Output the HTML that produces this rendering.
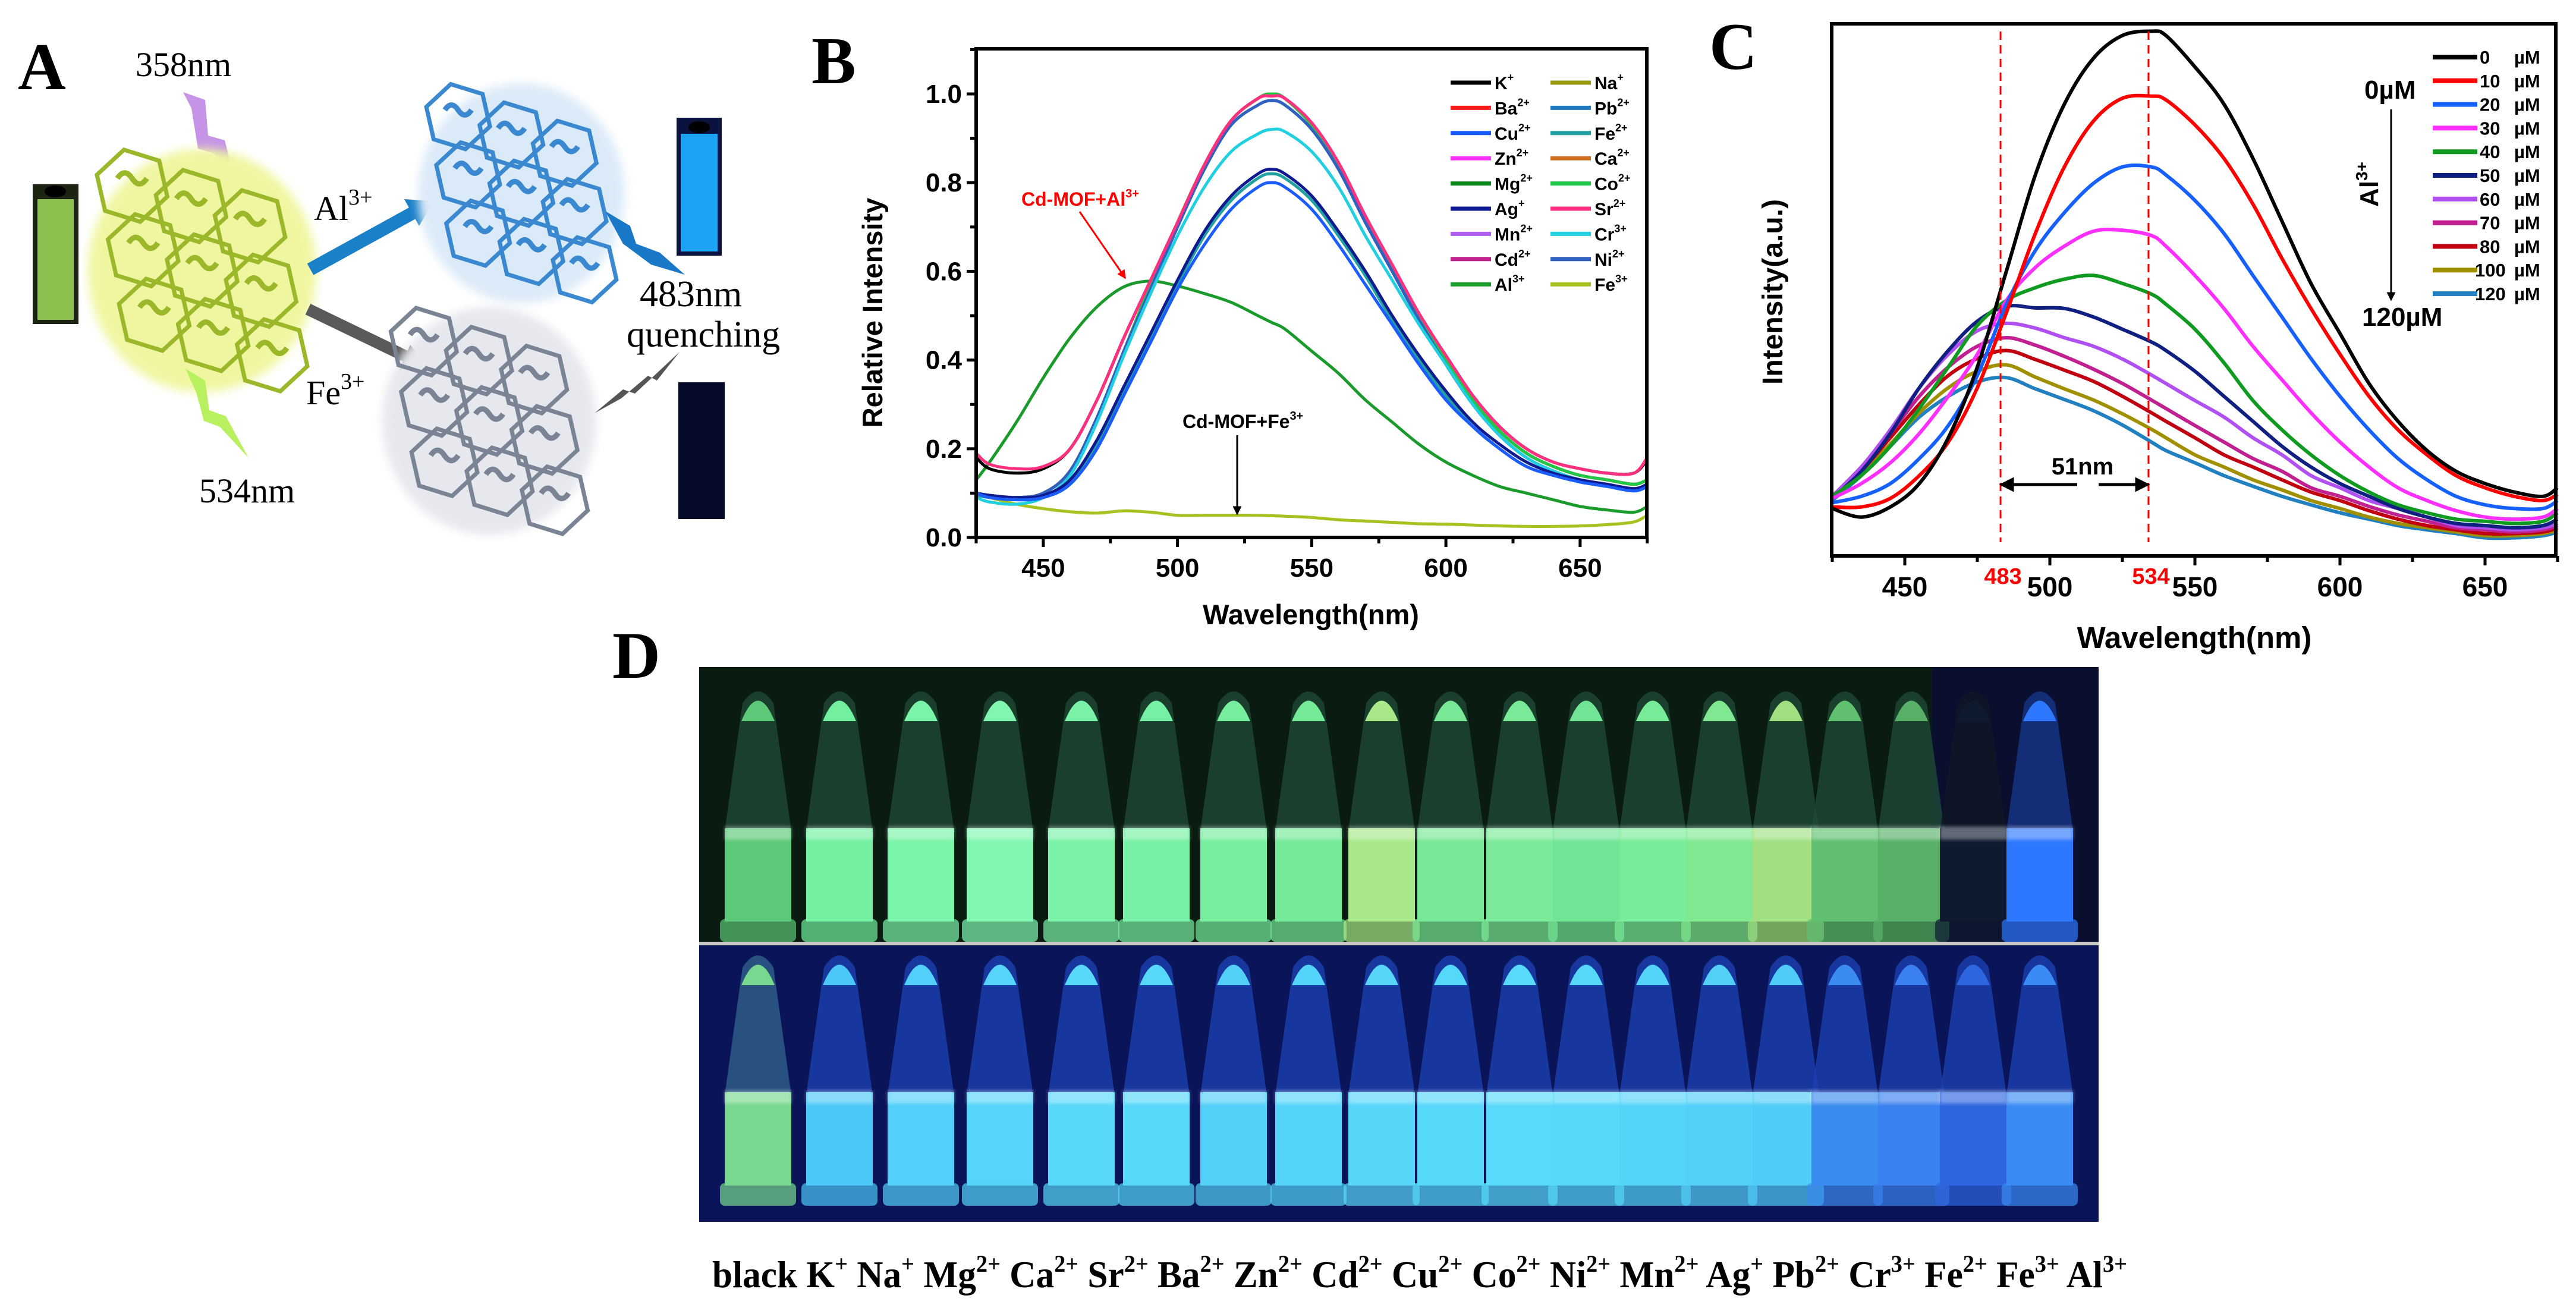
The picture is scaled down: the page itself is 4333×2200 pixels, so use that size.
<!DOCTYPE html>
<html><head><meta charset="utf-8"><title>Cd-MOF sensing figure</title>
<style>
html,body{margin:0;padding:0;background:#fff;}
svg{display:block;}
.ax{font-family:"Liberation Sans",Arial,sans-serif;font-weight:bold;}
.sr{font-family:"Liberation Serif","Times New Roman",serif;}
</style></head>
<body>
<svg id="fig" xmlns="http://www.w3.org/2000/svg" width="4333" height="2200" viewBox="0 0 4333 2200">
<defs>
<filter id="blur8" x="-20%" y="-20%" width="140%" height="140%"><feGaussianBlur stdDeviation="8"/></filter>
<filter id="blur3" x="-20%" y="-20%" width="140%" height="140%"><feGaussianBlur stdDeviation="3"/></filter>
<marker id="arrK" viewBox="0 0 10 10" refX="9" refY="5" markerWidth="5" markerHeight="5" orient="auto"><path d="M0,0 L10,5 L0,10 z" fill="#000"/></marker>
<marker id="arrR" viewBox="0 0 10 10" refX="9" refY="5" markerWidth="5" markerHeight="5" orient="auto"><path d="M0,0 L10,5 L0,10 z" fill="#f00"/></marker>
</defs>

<text class="sr" x="30" y="150" font-size="112" font-weight="bold">A</text>
<text class="sr" x="1365" y="140" font-size="112" font-weight="bold">B</text>
<text class="sr" x="2875" y="116" font-size="112" font-weight="bold">C</text>
<text class="sr" x="1030" y="1140" font-size="112" font-weight="bold">D</text>

<g id="panelA">
  <text class="sr" x="228" y="128" font-size="58">358nm</text>
  <polygon points="308,155 345,168 350,228 378,236 400,322 360,258 333,250 322,182" fill="#c594e6"/>
  <rect x="55" y="310" width="77" height="235" fill="#1b2410"/>
  <rect x="63" y="335" width="61" height="203" fill="#8cc04e"/>
  <ellipse cx="93" cy="322" rx="18" ry="10" fill="#000"/>
  <g id="netY"></g>
  <polygon points="312,620 345,640 352,690 380,700 418,770 370,718 343,708 330,660" fill="#b8f060"/>
  <text class="sr" x="335" y="845" font-size="58">534nm</text>
  <line x1="522" y1="453" x2="700" y2="355" stroke="#1a80c8" stroke-width="22"/>
  <polygon points="730,338 680,335 705,380" fill="#1a80c8"/>
  <text class="sr" x="528" y="370" font-size="58">Al<tspan font-size="38" dy="-26">3+</tspan></text>
  <g id="netB"></g>
  <rect x="1138" y="198" width="76" height="232" fill="#0a1240"/>
  <rect x="1145" y="225" width="62" height="198" fill="#1ba4f4"/>
  <ellipse cx="1176" cy="214" rx="18" ry="10" fill="#000"/>
  <polygon points="1018,355 1060,380 1070,410 1110,425 1152,462 1095,445 1075,430 1048,410" fill="#1a78c8"/>
  <text class="sr" x="1076" y="515" font-size="62">483nm</text>
  <text class="sr" x="1054" y="583" font-size="62">quenching</text>
  <line x1="518" y1="520" x2="690" y2="603" stroke="#5a5a5a" stroke-width="20"/>
  <polygon points="722,618 672,622 690,580" fill="#5a5a5a"/>
  <text class="sr" x="515" y="680" font-size="58">Fe<tspan font-size="38" dy="-26">3+</tspan></text>
  <g id="netG"></g>
  <polygon points="1143,592 1105,640 1090,632 1045,670 1000,695 1048,655 1068,662" fill="#555"/>
  <rect x="1141" y="643" width="78" height="230" fill="#050a2a"/>
</g>

<g id="panelB"></g>
<g id="panelC"></g>
<g id="panelD"></g>

<text class="sr" x="1198" y="2165" font-size="64" font-weight="bold" textLength="2380" lengthAdjust="spacingAndGlyphs">black K<tspan font-size="40" dy="-26">+</tspan><tspan dy="26"> Na</tspan><tspan font-size="40" dy="-26">+</tspan><tspan dy="26"> Mg</tspan><tspan font-size="40" dy="-26">2+</tspan><tspan dy="26"> Ca</tspan><tspan font-size="40" dy="-26">2+</tspan><tspan dy="26"> Sr</tspan><tspan font-size="40" dy="-26">2+</tspan><tspan dy="26"> Ba</tspan><tspan font-size="40" dy="-26">2+</tspan><tspan dy="26"> Zn</tspan><tspan font-size="40" dy="-26">2+</tspan><tspan dy="26"> Cd</tspan><tspan font-size="40" dy="-26">2+</tspan><tspan dy="26"> Cu</tspan><tspan font-size="40" dy="-26">2+</tspan><tspan dy="26"> Co</tspan><tspan font-size="40" dy="-26">2+</tspan><tspan dy="26"> Ni</tspan><tspan font-size="40" dy="-26">2+</tspan><tspan dy="26"> Mn</tspan><tspan font-size="40" dy="-26">2+</tspan><tspan dy="26"> Ag</tspan><tspan font-size="40" dy="-26">+</tspan><tspan dy="26"> Pb</tspan><tspan font-size="40" dy="-26">2+</tspan><tspan dy="26"> Cr</tspan><tspan font-size="40" dy="-26">3+</tspan><tspan dy="26"> Fe</tspan><tspan font-size="40" dy="-26">2+</tspan><tspan dy="26"> Fe</tspan><tspan font-size="40" dy="-26">3+</tspan><tspan dy="26"> Al</tspan><tspan font-size="40" dy="-26">3+</tspan></text>
</svg>

<script>
// ---------- Panel B data ----------
const wlB = [425,430,440,450,460,470,480,490,500,510,520,530,535,540,550,560,570,580,590,600,610,620,630,640,650,660,670,675];
const bK    = [0.18,0.155,0.145,0.155,0.20,0.31,0.45,0.58,0.71,0.84,0.94,0.99,1.0,0.99,0.93,0.84,0.72,0.61,0.50,0.41,0.32,0.25,0.20,0.17,0.155,0.145,0.145,0.175];
const bSr   = [0.19,0.165,0.155,0.16,0.20,0.31,0.45,0.58,0.71,0.84,0.94,0.99,0.995,0.99,0.935,0.845,0.725,0.615,0.505,0.41,0.32,0.25,0.20,0.17,0.155,0.145,0.145,0.18];
const bHigh = [0.10,0.095,0.09,0.10,0.15,0.27,0.42,0.57,0.71,0.84,0.94,0.99,1.0,0.99,0.93,0.84,0.72,0.61,0.50,0.40,0.31,0.24,0.19,0.16,0.14,0.13,0.12,0.13];
const bNiPb = [0.10,0.095,0.09,0.10,0.15,0.27,0.42,0.56,0.70,0.83,0.93,0.975,0.985,0.975,0.92,0.83,0.71,0.60,0.49,0.39,0.30,0.23,0.18,0.15,0.13,0.12,0.11,0.12];
const bCr   = [0.09,0.08,0.075,0.09,0.14,0.26,0.41,0.55,0.68,0.79,0.87,0.91,0.92,0.915,0.87,0.79,0.68,0.58,0.48,0.39,0.30,0.23,0.18,0.15,0.13,0.12,0.11,0.12];
const bAg   = [0.10,0.095,0.09,0.095,0.13,0.22,0.34,0.46,0.58,0.69,0.77,0.82,0.83,0.82,0.77,0.69,0.60,0.50,0.41,0.33,0.26,0.21,0.17,0.145,0.13,0.12,0.11,0.12];
const bFe2  = [0.095,0.09,0.085,0.09,0.125,0.21,0.33,0.45,0.57,0.68,0.76,0.81,0.82,0.81,0.76,0.68,0.59,0.49,0.40,0.32,0.25,0.20,0.16,0.14,0.125,0.115,0.105,0.115];
const bCu   = [0.10,0.09,0.085,0.09,0.12,0.20,0.32,0.44,0.56,0.66,0.74,0.79,0.80,0.79,0.74,0.66,0.57,0.48,0.39,0.31,0.25,0.20,0.16,0.14,0.125,0.115,0.105,0.115];
const bAl   = [0.13,0.17,0.26,0.36,0.45,0.52,0.565,0.578,0.567,0.55,0.53,0.50,0.485,0.47,0.42,0.37,0.31,0.26,0.21,0.17,0.14,0.115,0.10,0.085,0.07,0.062,0.057,0.07];
const bFe3  = [0.10,0.09,0.075,0.065,0.058,0.055,0.06,0.057,0.05,0.05,0.05,0.05,0.049,0.048,0.045,0.04,0.037,0.034,0.031,0.03,0.028,0.026,0.025,0.025,0.026,0.029,0.035,0.05];
const bIons   = ['K','Ba','Cu','Zn','Mg','Ag','Mn','Cd','Al','Na','Pb','Fe','Ca','Co','Sr','Cr','Ni','Fe'];
const bCharge = ['+','2+','2+','2+','2+','+','2+','2+','3+','+','2+','2+','2+','2+','2+','3+','2+','3+'];
const bSeries = [bK,bHigh,bCu,bHigh,bHigh,bAg,bHigh,bHigh,bAl,bHigh,bNiPb,bFe2,bHigh,bHigh,bSr,bCr,bNiPb,bFe3];
const bColors = ['#000000','#ff1a1a','#1a5cff','#ff33ff','#0a8a1a','#101a90','#b060f0','#c0208a','#1a9a2a','#9a9a10','#1f78c0','#20a0a0','#d07020','#20c848','#ff3080','#20d0e0','#3060c0','#a8c020'];
const bXTicks = [450,500,550,600,650];
const bYTicks = [0.0,0.2,0.4,0.6,0.8,1.0];

// ---------- Panel C data ----------
const wlC = [425,435,445,455,465,475,485,495,505,515,525,535,540,550,560,570,580,590,600,610,620,630,640,650,660,670,675];
const c0   = [89,73,92,136,222,355,535,716,849,935,978,986,978,919,849,747,629,512,418,324,253,198,159,136,120,112,128];
const c10  = [92,92,108,151,214,316,457,606,731,817,860,864,857,810,747,661,559,465,379,300,237,190,151,128,112,104,116];
const c20  = [100,112,136,183,245,339,473,574,645,700,731,731,716,668,606,527,449,371,300,237,183,143,112,96,89,89,104];
const c30  = [108,136,175,230,300,379,480,542,582,610,612,602,582,527,465,394,331,269,214,167,128,104,85,73,69,73,89];
const c40  = [112,151,206,277,355,433,480,504,520,527,512,492,473,426,363,292,237,190,151,120,96,81,69,65,61,65,81];
const c50  = [108,159,230,316,386,441,469,466,465,449,426,402,386,347,300,253,206,167,136,112,89,73,61,57,53,57,69];
const c60  = [112,167,237,316,379,423,437,428,410,394,370,340,324,292,261,222,190,151,128,104,89,73,57,53,49,53,61];
const c70  = [112,167,230,300,355,394,410,396,375,351,324,293,277,245,214,183,159,128,112,93,77,65,53,49,45,49,57];
const c80  = [108,159,222,285,339,371,386,369,349,328,300,269,253,222,190,167,143,120,104,85,69,57,49,42,42,45,53];
const c100 = [108,155,210,269,316,347,359,336,314,293,267,238,222,190,167,143,124,104,89,73,61,53,45,38,38,42,49];
const c120 = [104,151,206,261,300,327,335,314,294,273,246,214,198,175,151,131,112,96,81,69,57,49,42,34,34,38,45];
const cConc   = ['0','10','20','30','40','50','60','70','80','100','120'];
const cSeries = [c0,c10,c20,c30,c40,c50,c60,c70,c80,c100,c120];
const cColors = ['#000000','#ff0000','#1560ff','#ff30ff','#109a20','#102080','#b050f0','#c02090','#c00010','#a09000','#2080c0'];
const cXTicks = [450,500,550,600,650];
const cMarks  = [483,534];

const NS = 'http://www.w3.org/2000/svg';
function mk(tag, parent){ const e=document.createElementNS(NS,tag); parent.appendChild(e); return e; }
function smooth(pts){
  let d='M'+pts[0][0].toFixed(1)+','+pts[0][1].toFixed(1);
  for(let i=0;i<pts.length-1;i++){
    const p0=pts[i-1]||pts[i], p1=pts[i], p2=pts[i+1], p3=pts[i+2]||pts[i+1];
    const c1x=p1[0]+(p2[0]-p0[0])/6, c1y=p1[1]+(p2[1]-p0[1])/6;
    const c2x=p2[0]-(p3[0]-p1[0])/6, c2y=p2[1]-(p3[1]-p1[1])/6;
    d+=' C'+c1x.toFixed(1)+','+c1y.toFixed(1)+' '+c2x.toFixed(1)+','+c2y.toFixed(1)+' '+p2[0].toFixed(1)+','+p2[1].toFixed(1);
  }
  return d;
}
function txt(parent, x, y, s, size, opts){
  const t=mk('text',parent);
  t.setAttribute('x',x); t.setAttribute('y',y);
  t.setAttribute('font-size',size);
  t.setAttribute('class', (opts&&opts.cls)||'ax');
  if(opts&&opts.anchor) t.setAttribute('text-anchor',opts.anchor);
  if(opts&&opts.fill) t.setAttribute('fill',opts.fill);
  if(opts&&opts.weight) t.setAttribute('font-weight',opts.weight);
  if(opts&&opts.rot) t.setAttribute('transform','rotate('+opts.rot+' '+x+' '+y+')');
  t.textContent=s;
  return t;
}

// ---------- Panel B ----------
(function(){
  const g=document.getElementById('panelB');
  const L=1642,R=2770,T=82,B=904;
  const xB=nm=>L+(nm-425)*4.515;
  const yB=v=>B-v*746;
  const order=[17,8,0,1,3,4,6,7,9,12,13,10,16,15,11,5,2,14];
  order.forEach(i=>{
    const p=mk('path',g);
    p.setAttribute('d',smooth(wlB.map((w,k)=>[xB(w),yB(bSeries[i][k])])));
    p.setAttribute('fill','none');
    p.setAttribute('stroke',bColors[i]);
    p.setAttribute('stroke-width','5');
    p.setAttribute('stroke-linejoin','round');
    
    
  });
  const fr=mk('rect',g);
  fr.setAttribute('x',L); fr.setAttribute('y',T); fr.setAttribute('width',R-L); fr.setAttribute('height',B-T);
  fr.setAttribute('fill','none'); fr.setAttribute('stroke','#000'); fr.setAttribute('stroke-width','6');
  
  
  for(let nm=425;nm<=675;nm+=25){
    const t=mk('line',g);
    t.setAttribute('x1',xB(nm)); t.setAttribute('x2',xB(nm)); t.setAttribute('y1',B); t.setAttribute('y2',B+(nm%50===0?16:10));
    t.setAttribute('stroke','#000'); t.setAttribute('stroke-width','5');
    
    
  }
  bXTicks.forEach(v=>{
    const t=txt(g,xB(v),970,String(v),44,{anchor:'middle'});
    
    
  });
  for(let v=0;v<=1.1001;v+=0.1){
    const t=mk('line',g);
    const major=Math.round(v*10)%2===0;
    t.setAttribute('x1',L); t.setAttribute('x2',L-(major?16:10)); t.setAttribute('y1',yB(v)); t.setAttribute('y2',yB(v));
    t.setAttribute('stroke','#000'); t.setAttribute('stroke-width','5');
    
    
  }
  bYTicks.forEach(v=>{
    const t=txt(g,1618,yB(v)+15,v.toFixed(1),44,{anchor:'end'});
    
    
  });
  const yl=txt(g,1484,526,'Relative Intensity',47,{anchor:'middle',rot:-90});
  
  
  const xl=txt(g,2205,1050,'Wavelength(nm)',47,{anchor:'middle'});
  
  
  bIons.forEach((ion,i)=>{
    const col=i<9?0:1, row=i%9;
    const lx=col===0?2440:2608, y=139+row*42.4;
    const ln=mk('line',g);
    ln.setAttribute('x1',lx); ln.setAttribute('x2',lx+68); ln.setAttribute('y1',y); ln.setAttribute('y2',y);
    ln.setAttribute('stroke',bColors[i]); ln.setAttribute('stroke-width','7');
    
    
    const t=txt(g,lx+74,y+11,ion,30,{weight:'bold'});
    const sp=mk('tspan',t);
    sp.setAttribute('font-size','18'); sp.setAttribute('dy','-14');
    sp.textContent=bCharge[i];
    
    
  });
  const a1=txt(g,1718,346,'Cd-MOF+Al',32,{fill:'#f00'});
  const s1=mk('tspan',a1); s1.setAttribute('font-size','20'); s1.setAttribute('dy','-14'); s1.textContent='3+';
  
  
  const ar1=mk('line',g);
  ar1.setAttribute('x1',1816); ar1.setAttribute('y1',356); ar1.setAttribute('x2',1893); ar1.setAttribute('y2',468);
  ar1.setAttribute('stroke','#f00'); ar1.setAttribute('stroke-width','3'); ar1.setAttribute('marker-end','url(#arrR)');
  
  
  const a2=txt(g,1989,720,'Cd-MOF+Fe',32,{fill:'#000'});
  const s2=mk('tspan',a2); s2.setAttribute('font-size','20'); s2.setAttribute('dy','-14'); s2.textContent='3+';
  
  
  const ar2=mk('line',g);
  ar2.setAttribute('x1',2081); ar2.setAttribute('y1',732); ar2.setAttribute('x2',2081); ar2.setAttribute('y2',865);
  ar2.setAttribute('stroke','#000'); ar2.setAttribute('stroke-width','3'); ar2.setAttribute('marker-end','url(#arrK)');
  
  
})();

// ---------- Panel C ----------
(function(){
  const g=document.getElementById('panelC');
  const L=3081,R=4299,T=40,B=935;
  const xC=nm=>3082+(nm-425)*4.88;
  const yC=v=>B-v*0.895;
  for(let i=cSeries.length-1;i>=0;i--){
    const p=mk('path',g);
    p.setAttribute('d',smooth(wlC.map((w,k)=>[xC(w),yC(cSeries[i][k])])));
    p.setAttribute('fill','none');
    p.setAttribute('stroke',cColors[i]);
    p.setAttribute('stroke-width','6');
    p.setAttribute('stroke-linejoin','round');
    
    
  }
  const fr=mk('rect',g);
  fr.setAttribute('x',L); fr.setAttribute('y',T); fr.setAttribute('width',R-L); fr.setAttribute('height',B-T);
  fr.setAttribute('fill','none'); fr.setAttribute('stroke','#000'); fr.setAttribute('stroke-width','6');
  
  
  for(let nm=425;nm<=675;nm+=25){
    const t=mk('line',g);
    t.setAttribute('x1',xC(nm)); t.setAttribute('x2',xC(nm)); t.setAttribute('y1',B); t.setAttribute('y2',B+(nm%50===0?16:10));
    t.setAttribute('stroke','#000'); t.setAttribute('stroke-width','5');
    
    
  }
  cXTicks.forEach(v=>{
    const t=txt(g,xC(v),1003,String(v),46,{anchor:'middle'});
    
    
  });
  cMarks.forEach(v=>{
    const l=mk('line',g);
    l.setAttribute('x1',xC(v)); l.setAttribute('x2',xC(v)); l.setAttribute('y1',53); l.setAttribute('y2',912);
    l.setAttribute('stroke','#f00'); l.setAttribute('stroke-width','3'); l.setAttribute('stroke-dasharray','14,9');
    
    
    const t=txt(g,xC(v)+4,982,String(v),38,{anchor:'middle',fill:'#f00'});
    
    
  });
  const t51=txt(g,3503,798,'51nm',40,{anchor:'middle'});
  
  
  [[3494,xC(cMarks[0])],[3530,xC(cMarks[1])]].forEach(p=>{
    const l=mk('line',g);
    l.setAttribute('x1',p[0]); l.setAttribute('x2',p[1]); l.setAttribute('y1',815); l.setAttribute('y2',815);
    l.setAttribute('stroke','#000'); l.setAttribute('stroke-width','5'); l.setAttribute('marker-end','url(#arrK)');
    
    
  });
  const yl=txt(g,2998,491,'Intensity(a.u.)',48,{anchor:'middle',rot:-90});
  
  
  const xl=txt(g,3691,1090,'Wavelength(nm)',51,{anchor:'middle'});
  
  
  cConc.forEach((c,i)=>{
    const y=96+i*39.8;
    const ln=mk('line',g);
    ln.setAttribute('x1',4092); ln.setAttribute('x2',4167); ln.setAttribute('y1',y); ln.setAttribute('y2',y);
    ln.setAttribute('stroke',cColors[i]); ln.setAttribute('stroke-width','8');
    
    
    const t=txt(g,c.length>2?4163:4171,y+11,c,31,{weight:'normal'});
    
    
    const u=txt(g,4229,y+11,'µM',31,{weight:'normal'});
    
    
  });
  const t0=txt(g,3977,166,'0µM',44);
  
  
  const ar=mk('line',g);
  ar.setAttribute('x1',4022); ar.setAttribute('x2',4022); ar.setAttribute('y1',184); ar.setAttribute('y2',505);
  ar.setAttribute('stroke','#000'); ar.setAttribute('stroke-width','3'); ar.setAttribute('marker-end','url(#arrK)');
  
  
  const ta=txt(g,4000,348,'Al',44,{rot:-90});
  const sa=mk('tspan',ta); sa.setAttribute('font-size','28'); sa.setAttribute('dy','-18'); sa.textContent='3+';
  
  
  const t120=txt(g,3973,548,'120µM',44);
  
  
})();

// ---------- Panel A networks ----------
function network(id, cx, cy, r, stroke, glow){
  const g=document.getElementById(id);
  const gl=mk('ellipse',g);
  gl.setAttribute('cx',cx); gl.setAttribute('cy',cy); gl.setAttribute('rx',r*3.1); gl.setAttribute('ry',r*3.3);
  gl.setAttribute('fill',glow); gl.setAttribute('filter','url(#blur8)');
  for(let row=-1;row<=1;row++){
    for(let col=-1;col<=1;col++){
      const hx=cx+col*r*1.6+row*r*0.3, hy=cy+row*r*1.75+col*r*0.55;
      const h=mk('polygon',g);
      let pts=[];
      for(let k=0;k<6;k++){const a=Math.PI/3*k+0.3; pts.push((hx+r*Math.cos(a)).toFixed(1)+','+(hy+r*Math.sin(a)).toFixed(1));}
      h.setAttribute('points',pts.join(' '));
      h.setAttribute('fill','none'); h.setAttribute('stroke',stroke); h.setAttribute('stroke-width','7');
      const m=mk('path',g);
      m.setAttribute('d','M'+(hx-r*0.4)+','+(hy-r*0.2)+' q'+(r*0.2)+','+(-r*0.3)+' '+(r*0.4)+',0 t'+(r*0.4)+',0');
      m.setAttribute('fill','none'); m.setAttribute('stroke',stroke); m.setAttribute('stroke-width','9');
    }
  }
}
network('netY',340,455,62,'#9ab82a','#f0f6a0');
network('netB',877,325,56,'#3a88d0','#dbeaf8');
network('netG',823,708,58,'#7a8494','#e6e8ee');
document.getElementById('netY');
document.getElementById('netB');
document.getElementById('netG');

// ---------- Panel D photo ----------
(function(){
  const g=document.getElementById('panelD');
  const top=mk('rect',g);
  top.setAttribute('x',1176); top.setAttribute('y',1122); top.setAttribute('width',2354); top.setAttribute('height',463);
  top.setAttribute('fill','#0a1c12');
  
  
  const topR=mk('rect',g);
  topR.setAttribute('x',3250); topR.setAttribute('y',1122); topR.setAttribute('width',280); topR.setAttribute('height',463);
  topR.setAttribute('fill','#0a0f30');
  const bot=mk('rect',g);
  bot.setAttribute('x',1176); bot.setAttribute('y',1590); bot.setAttribute('width',2354); bot.setAttribute('height',465);
  bot.setAttribute('fill','#0a1458');
  
  
  const centers=[1275,1412,1549,1682,1819,1945,2075,2201,2324,2440,2556,2668,2780,2892,3004,3103,3215,3319,3431];
  const topCol=['#5cc878','#72f0a0','#7af4a8','#80f6b0','#7af2a8','#76f0a4','#76ee9e','#74ea98','#a8e888','#78e896','#7aea98','#72e496','#78ec98','#80e890','#a0e080','#60c070','#58b068','#0e1a30','#2e78ff'];
  const botCol=['#78d890','#4cc8f8','#52d0fa','#56d4fa','#58d8fa','#56d8fa','#52d0f8','#54d4fa','#58d6fa','#56d8fa','#58dafa','#56d8fa','#54d4f8','#52d0f8','#50ccf8','#3a8cf0','#3a80f0','#2e66e0','#3a8cf4'];
  function tube(cx, T, color, upper, idx, row){
    const w=56, tw=26;
    const c=mk('path',g);
    c.setAttribute('d','M'+(cx-tw)+','+(T+25)+' Q'+cx+','+(T-15)+' '+(cx+tw)+','+(T+25)+' L'+(cx+w)+','+(T+240)+' L'+(cx+w)+','+(T+390)+' L'+(cx-w)+','+(T+390)+' L'+(cx-w)+','+(T+240)+' Z');
    c.setAttribute('fill',upper);
    c.setAttribute('opacity','0.8');
    const liq=mk('path',g);
    liq.setAttribute('d','M'+(cx-w)+','+(T+235)+' L'+(cx+w)+','+(T+235)+' L'+(cx+w)+','+(T+392)+' L'+(cx-w)+','+(T+392)+' Z');
    liq.setAttribute('fill',color);
    const band=mk('rect',g);
    band.setAttribute('x',cx-w); band.setAttribute('y',T+232); band.setAttribute('width',2*w); band.setAttribute('height',22);
    band.setAttribute('fill','#ffffff'); band.setAttribute('opacity','0.35'); band.setAttribute('filter','url(#blur3)');
    const tip=mk('path',g);
    tip.setAttribute('d','M'+(cx-tw-2)+','+(T+55)+' Q'+cx+','+(T-14)+' '+(cx+tw+2)+','+(T+55)+' Z');
    tip.setAttribute('fill',color);
    const rim=mk('rect',g);
    rim.setAttribute('x',cx-w-8); rim.setAttribute('y',T+388); rim.setAttribute('width',2*w+16); rim.setAttribute('height',38);
    rim.setAttribute('rx',8); rim.setAttribute('fill',color); rim.setAttribute('opacity','0.7');
    [c,liq,band,tip,rim].forEach(e=>{
      
      
    });
  }
  centers.forEach((cx,i)=>{
    tube(cx,1158,topCol[i],i===17?'#0e1626':(i===18?'#16348a':'#1e4a34'),i,'top');
    tube(cx,1602,botCol[i],i===0?'#30608a':'#1c40b0',i,'bottom');
  });
  const div=mk('rect',g);
  div.setAttribute('x',1176); div.setAttribute('y',1584); div.setAttribute('width',2354); div.setAttribute('height',6);
  div.setAttribute('fill','#c8c8c8');
  
  
})();
</script>
</body></html>
